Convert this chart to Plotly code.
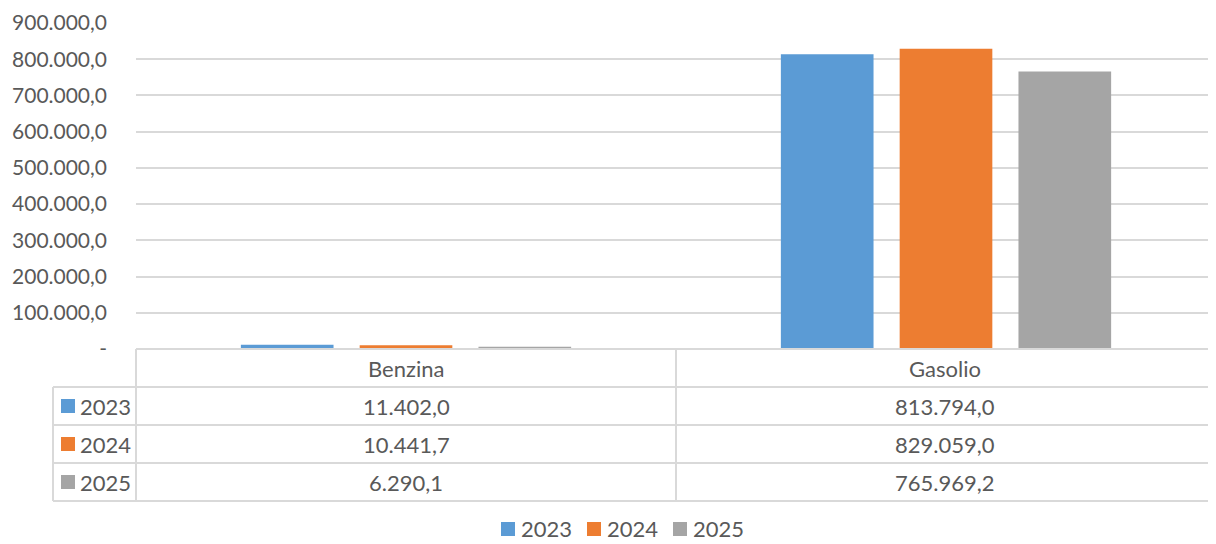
import plotly.graph_objects as go

# data
categories = ['Benzina', 'Gasolio']
years = ['2023', '2024', '2025']
values_2023 = [11402.0, 813794.0]
values_2024 = [10441.7, 829059.0]
values_2025 = [6290.1, 765969.2]
y_ticks = [0, 100000, 200000, 300000, 400000, 500000, 600000, 700000, 800000, 900000]

colors = ['#5B9BD5', '#ED7D31', '#A5A5A5']
font_family = 'Lato'
text_color = '#595959'
line_color = '#D9D9D9'

W, H = 1216, 544
OFF = 8  # page body margin


def it_num(v):
    # Italian style number: 813.794,0
    s = '{:,.1f}'.format(v)
    return s.replace(',', 'X').replace('.', ',').replace('X', '.')


def tick_lbl(v):
    return '-' if v == 0 else it_num(v)


# screen pixel -> paper coords
def px(x):
    return (x - OFF) / W


def py(y):
    return 1 - (y - OFF) / H


series = [values_2023, values_2024, values_2025]

fig = go.Figure()
for yr, vals, col in zip(years, series, colors):
    fig.add_trace(go.Bar(x=categories, y=vals, name=yr, marker_color=col,
                         marker_line_width=0, showlegend=False))

# plot area in pixels
left, right, top, bottom = 136, 1216, 23, 349
row_y = [349, 387, 425, 463, 501]
col_x = [53, 136, 676, 1214]

shapes = []
lw = dict(color=line_color, width=2)
# header row top line
shapes.append(dict(type='line', xref='paper', yref='paper', x0=px(col_x[1]), x1=px(col_x[3]),
                   y0=py(row_y[0]), y1=py(row_y[0]), line=lw))
for ry in row_y[1:]:
    shapes.append(dict(type='line', xref='paper', yref='paper', x0=px(col_x[0]), x1=px(col_x[3]),
                       y0=py(ry), y1=py(ry), line=lw))
shapes.append(dict(type='line', xref='paper', yref='paper', x0=px(col_x[0]), x1=px(col_x[0]),
                   y0=py(row_y[1]), y1=py(row_y[4]), line=lw))
for cx in col_x[1:]:
    shapes.append(dict(type='line', xref='paper', yref='paper', x0=px(cx), x1=px(cx),
                       y0=py(row_y[0]), y1=py(row_y[4]), line=lw))

annotations = []
fnt = dict(family=font_family, size=22, color=text_color)
# header
for i, cat in enumerate(categories):
    cx = (col_x[i + 1] + col_x[i + 2]) / 2
    annotations.append(dict(x=px(cx), y=py((row_y[0] + row_y[1]) / 2), xref='paper', yref='paper',
                            text=cat, showarrow=False, font=fnt, xanchor='center', yanchor='middle'))
# rows
for r, (yr, vals, col) in enumerate(zip(years, series, colors)):
    cy = (row_y[r + 1] + row_y[r + 2]) / 2
    shapes.append(dict(type='rect', xref='paper', yref='paper', x0=px(61), x1=px(75),
                       y0=py(cy - 7), y1=py(cy + 7), fillcolor=col, line_width=0))
    annotations.append(dict(x=px(78), y=py(cy), xref='paper', yref='paper', text=yr,
                            showarrow=False, font=fnt, xanchor='left', yanchor='middle'))
    for i, v in enumerate(vals):
        cx = (col_x[i + 1] + col_x[i + 2]) / 2
        annotations.append(dict(x=px(cx), y=py(cy), xref='paper', yref='paper', text=it_num(v),
                                showarrow=False, font=fnt, xanchor='center', yanchor='middle'))

# bottom legend
leg_y = 529
for k, (yr, col) in enumerate(zip(years, colors)):
    x0 = 501 + 86 * k
    shapes.append(dict(type='rect', xref='paper', yref='paper', x0=px(x0), x1=px(x0 + 14),
                       y0=py(leg_y - 7), y1=py(leg_y + 7), fillcolor=col, line_width=0))
    annotations.append(dict(x=px(x0 + 18), y=py(leg_y - 1), xref='paper', yref='paper', text=yr,
                            showarrow=False, font=fnt, xanchor='left', yanchor='middle'))

fig.update_layout(
    width=W, height=H,
    margin=dict(l=0, r=0, t=0, b=0, autoexpand=False),
    paper_bgcolor='white', plot_bgcolor='white',
    font=fnt,
    barmode='group', bargap=0.34, bargroupgap=0.22,
    shapes=shapes, annotations=annotations,
    showlegend=False,
    xaxis=dict(domain=[px(left), px(right)], showticklabels=False, showgrid=False,
               zeroline=False, showline=False),
    yaxis=dict(domain=[py(bottom), py(top)], range=[0, 900000], tickvals=y_ticks,
               ticktext=[tick_lbl(v) for v in y_ticks], showgrid=True, gridcolor=line_color,
               gridwidth=1.5, zeroline=False, showline=False, ticklabelstandoff=28,
               tickfont=dict(family=font_family, size=21, color=text_color)),
)

fig.write_html('out.html')
